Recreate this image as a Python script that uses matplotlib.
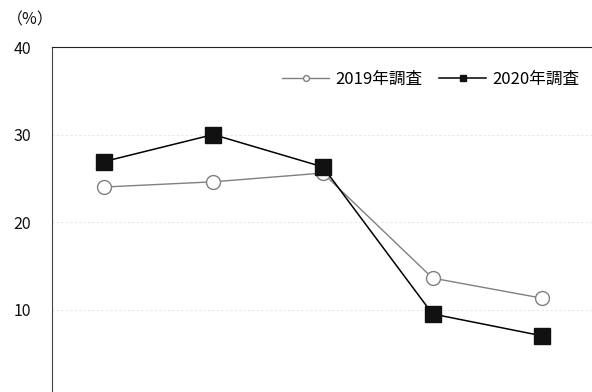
import numpy as np
import matplotlib
matplotlib.use("Agg")
import matplotlib.pyplot as plt

plt.rcParams['font.family'] = ['Noto Sans CJK JP', 'DejaVu Sans']

# データ（横軸ラベルは図に表示されていない）
categories = np.arange(5)
y2019 = [24.0, 24.6, 25.6, 13.6, 11.3]
y2020 = [26.9, 30.0, 26.3, 9.5, 7.0]
yticks = [0, 10, 20, 30, 40]

fig = plt.figure(figsize=(5.92, 3.92), dpi=100)
ax = fig.add_axes([0.088, -0.013, 0.926, 0.893])

ax.plot(categories, y2019, color="#808080", linewidth=1.0, marker="o",
        markersize=10, markerfacecolor="white", markeredgecolor="#808080",
        markeredgewidth=1.0, label="2019年調査", zorder=3)
ax.plot(categories, y2020, color="black", linewidth=1.1, marker="s",
        markersize=11, markerfacecolor="#111111", markeredgecolor="#111111",
        label="2020年調査", zorder=4)

ax.set_xlim(-0.47, 4.53)
ax.set_ylim(0, 40)
ax.set_yticks(yticks)
ax.set_xticks([])
ax.tick_params(axis="y", length=0, pad=15, labelsize=11.5, labelcolor="#111111")
for s in ["right", "bottom"]:
    ax.spines[s].set_visible(False)
ax.spines["left"].set_color("#444444")
ax.spines["top"].set_color("#222222")
ax.grid(axis="y", linestyle=(0, (2, 2)), color="#ece8dc", linewidth=0.8)

fig.text(0.012, 0.95, "（%）", fontsize=11.5, va="center", ha="left", color="#111111")

ax.legend(loc="upper right", bbox_to_anchor=(0.99, 0.975), ncol=2, frameon=False,
          markerscale=0.42, fontsize=12, handlelength=2.8, columnspacing=1.0,
          handletextpad=0.4)

fig.savefig("out.png", dpi=100)
